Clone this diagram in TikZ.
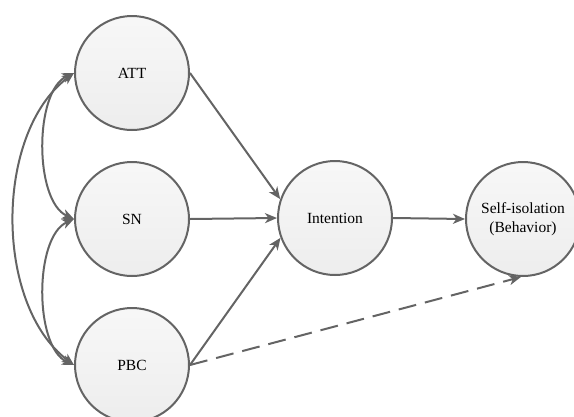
\documentclass[tikz,border=0pt]{standalone}
\usepackage{fontspec}
\setmainfont{Liberation Serif}
\usetikzlibrary{arrows.meta}
\definecolor{edgegray}{HTML}{646464}
\tikzset{
  circ/.style={circle, draw=edgegray, line width=2pt, minimum size=114pt, inner sep=0pt,
    top color=white!97!black, bottom color=white!93!black, align=center,
    font=\fontsize{15.5}{19.5}\selectfont},
  arr/.style={draw=edgegray, line width=2pt, -{Stealth[length=12pt,width=10pt,inset=3.5pt]}},
  darr/.style={draw=edgegray, line width=2pt, {Stealth[length=12pt,width=10pt,inset=3.5pt]}-{Stealth[length=12pt,width=10pt,inset=3.5pt]}},
  dsh/.style={dash pattern=on 18pt off 9pt}
}
\begin{document}
\begin{tikzpicture}[x=1pt,y=-1pt]
\useasboundingbox (0,0) rectangle (574,416);
\begin{scope}
\clip (0,0) rectangle (574,416);
\node[circ] (att) at (132,73) {ATT};
\node[circ] (sn) at (132,219) {SN};
\node[circ] (pbc) at (132,365) {PBC};
\node[circ] (int) at (335,218) {Intention};
\node[circ] (beh) at (523,219) {Self-isolation\\(Behavior)};
\draw[arr] (att.east) -- (int.161);
\draw[arr] (sn.east) -- (int.west);
\draw[arr] (pbc.east) -- (int.200);
\draw[arr] (int.east) -- (beh.west);
\draw[arr,dsh] (pbc.east) -- (beh.268);
\draw[darr] (att.west) .. controls +(-40,18) and +(-40,-18) .. (sn.west);
\draw[darr] (sn.west) .. controls +(-40,18) and +(-40,-18) .. (pbc.west);
\draw[darr] (att.west) .. controls +(-80,60) and +(-80,-60) .. (pbc.west);
\end{scope}
\end{tikzpicture}
\end{document}
